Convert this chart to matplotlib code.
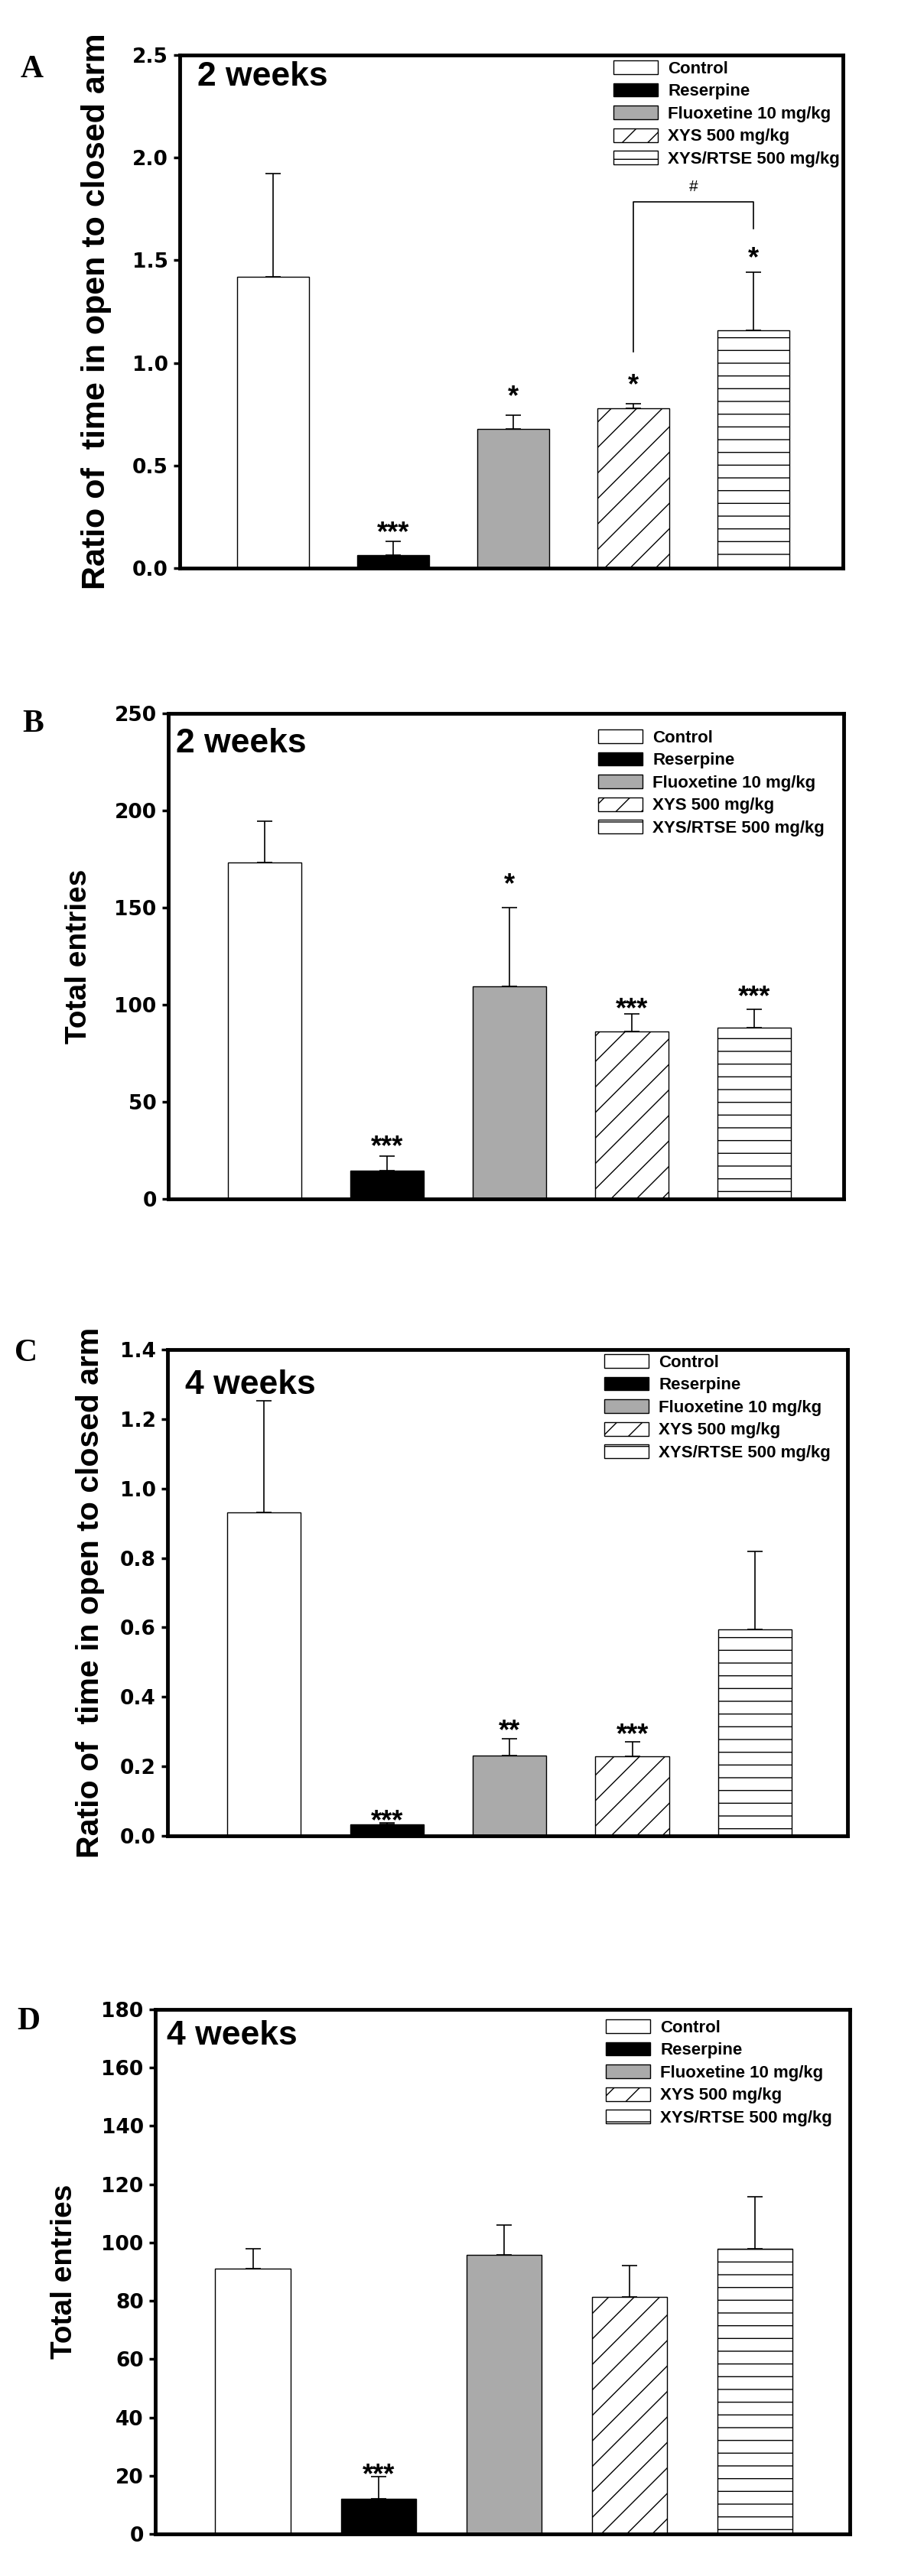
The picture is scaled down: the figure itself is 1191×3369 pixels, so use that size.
import numpy as np
import matplotlib.pyplot as plt
from matplotlib.ticker import FormatStrFormatter

plt.rcParams['font.family'] = ['Liberation Sans', 'DejaVu Sans']
plt.rcParams['hatch.linewidth'] = 1.0

W, H = 1191, 3369

groups = ["Control", "Reserpine", "Fluoxetine 10 mg/kg", "XYS 500 mg/kg", "XYS/RTSE 500 mg/kg"]
faces = ['white', 'black', '#aaaaaa', 'white', 'white']
hatches = [None, None, None, '/', '-']
x = np.arange(1, 6)

# A: 2 weeks, ratio of time
a_mean = [1.418, 0.065, 0.677, 0.779, 1.160]
a_err = [0.506, 0.064, 0.068, 0.021, 0.281]
a_sig = ["", "***", "*", "*", "*"]
a_sig_y = [0, 0.21, 0.875, 0.93, 1.55]

# B: 2 weeks, total entries
b_mean = [173.2, 14.7, 109.4, 86.4, 88.1]
b_err = [21.3, 7.5, 40.5, 8.9, 9.6]
b_sig = ["", "***", "*", "***", "***"]
b_sig_y = [0, 31, 166, 102, 108]

# C: 4 weeks, ratio of time
c_mean = [0.932, 0.032, 0.232, 0.228, 0.595]
c_err = [0.320, 0.006, 0.048, 0.043, 0.223]
c_sig = ["", "***", "**", "***", ""]
c_sig_y = [0, 0.065, 0.325, 0.315, 0]

# D: 4 weeks, total entries
d_mean = [91.0, 12.2, 95.8, 81.4, 98.0]
d_err = [7.0, 7.6, 10.2, 10.8, 17.6]
d_sig = ["", "***", "", "", ""]
d_sig_y = [0, 23, 0, 0, 0]

ratio_label = "Ratio of  time in open to closed arm"
entries_label = "Total entries"

panels = [
    dict(letter="A", lpos=(42, 91), box=(235, 1102, 72, 743), xlim=(0.225, 5.746),
         ymax=2.5, step=0.5, fmt='%.1f', mean=a_mean, err=a_err, sig=a_sig, sig_y=a_sig_y,
         ylabel=ratio_label, ylsize=31, ylx=126, week="2 weeks", wpos=(258, 100), leg=(802, 89)),
    dict(letter="B", lpos=(43, 947), box=(220, 1103, 933, 1568), xlim=(0.215, 5.733),
         ymax=250, step=50, fmt='%d', mean=b_mean, err=b_err, sig=b_sig, sig_y=b_sig_y,
         ylabel=entries_label, ylsize=28, ylx=103, week="2 weeks", wpos=(230, 973), leg=(782, 964)),
    dict(letter="C", lpos=(34, 1770), box=(219, 1108, 1765, 2401), xlim=(0.214, 5.753),
         ymax=1.4, step=0.2, fmt='%.1f', mean=c_mean, err=c_err, sig=c_sig, sig_y=c_sig_y,
         ylabel=ratio_label, ylsize=29.5, ylx=118, week="4 weeks", wpos=(242, 1811), leg=(790, 1781)),
    dict(letter="D", lpos=(37, 2644), box=(203, 1111, 2628, 3314), xlim=(0.222, 5.755),
         ymax=180, step=20, fmt='%d', mean=d_mean, err=d_err, sig=d_sig, sig_y=d_sig_y,
         ylabel=entries_label, ylsize=28, ylx=84, week="4 weeks", wpos=(218, 2663), leg=(792, 2651)),
]

fig = plt.figure(figsize=(W / 100, H / 100), dpi=100)

for p in panels:
    l, r, t, b = p['box']
    aw, ah = r - l, b - t
    ax = fig.add_axes([l / W, 1 - b / H, aw / W, ah / H])

    for i in range(5):
        ax.bar(x[i], p['mean'][i], 0.6, color=faces[i], edgecolor='black',
               hatch=hatches[i], linewidth=1.0, label=groups[i], zorder=2)
    ax.errorbar(x, p['mean'], yerr=[np.zeros(5), p['err']], fmt='none', ecolor='black',
                elinewidth=1.2, capsize=7, capthick=1.2, zorder=3)

    for i in range(5):
        if p['sig'][i]:
            ax.annotate(p['sig'][i], (x[i], p['sig_y'][i]), xytext=(0, -15),
                        textcoords='offset points', ha='center', va='baseline',
                        fontsize=26, fontweight='bold')

    ax.set_xlim(*p['xlim'])
    ax.set_ylim(0, p['ymax'])
    ax.set_yticks(np.arange(0, p['ymax'] + p['step'] / 2, p['step']))
    ax.yaxis.set_major_formatter(FormatStrFormatter(p['fmt']))
    ax.set_xticks([])
    for s in ax.spines.values():
        s.set_linewidth(3.5)
    ax.tick_params(axis='y', direction='out', length=6, width=2.5, labelsize=19, pad=5)
    for lab in ax.get_yticklabels():
        lab.set_family('DejaVu Sans')
        lab.set_fontweight('bold')

    ax.set_ylabel(p['ylabel'], fontsize=p['ylsize'], fontweight='bold', va='center')
    ax.yaxis.set_label_coords((p['ylx'] - l) / aw, 0.5)

    ax.text((p['wpos'][0] - l) / aw, (b - p['wpos'][1]) / ah, p['week'], transform=ax.transAxes,
            fontsize=32, fontweight='bold', ha='left', va='center')

    lx = (p['leg'][0] - l) / aw
    ly = (b - p['leg'][1] + 10) / ah
    ax.legend(loc='upper left', bbox_to_anchor=(lx, ly), frameon=False,
              prop={'family': 'Liberation Sans', 'weight': 'bold', 'size': 16},
              handlelength=2.6, handleheight=0.86, handletextpad=0.6,
              labelspacing=0.36, borderpad=0, borderaxespad=0)

    fig.text(p['lpos'][0] / W, 1 - p['lpos'][1] / H, p['letter'], family='Liberation Serif',
             fontweight='bold', fontsize=30, ha='center', va='center')

    if p['letter'] == "A":
        ax.plot([4, 4, 5, 5], [1.055, 1.786, 1.786, 1.655], color='black', lw=1.2, zorder=3)
        ax.text(4.5, 1.859, "#", ha='center', va='center', fontsize=15)

fig.savefig('out.png', dpi=100)
